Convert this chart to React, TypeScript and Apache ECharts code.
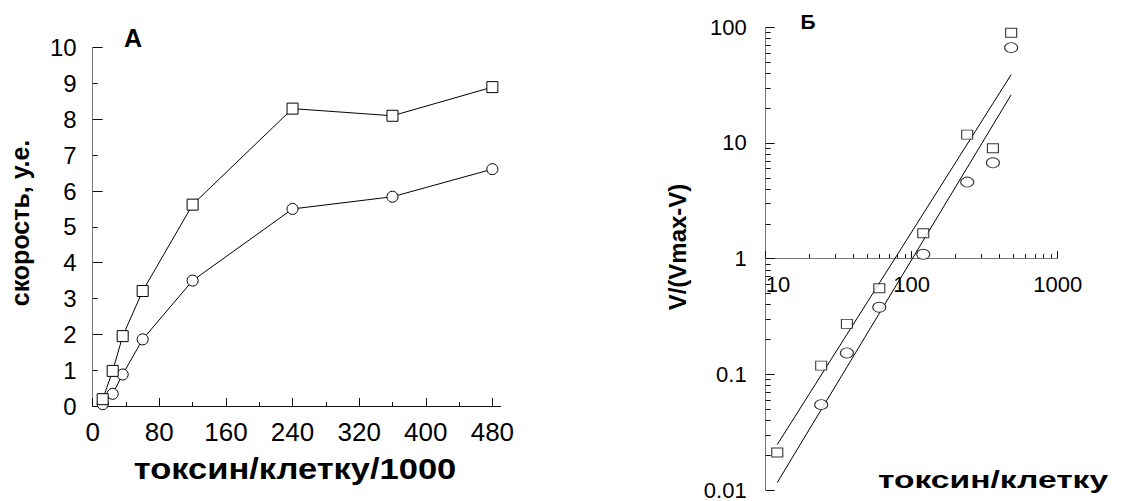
import React, { useEffect, useRef } from "react";
import * as echarts from "echarts";

// Panel А: rate vs toxin per cell (thousands)
const doses = [12, 24, 36, 60, 120, 240, 360, 480];
const rateSquares = [0.19, 0.98, 1.95, 3.21, 5.62, 8.3, 8.1, 8.9];
const rateCircles = [0.05, 0.34, 0.88, 1.86, 3.5, 5.5, 5.84, 6.61];

// Panel Б: V/(Vmax-V) vs toxin per cell, log-log
const dosesSquaresB = [12, 24, 36, 60, 120, 240, 360, 480];
const ratioSquares = [0.0211, 0.119, 0.273, 0.554, 1.66, 11.8, 9.0, 89.8];
const dosesCirclesB = [24, 36, 60, 120, 240, 360, 480];
const ratioCircles = [0.0547, 0.153, 0.38, 1.09, 4.59, 6.74, 66.7];
const fitX = [12, 480];
const fitSquares = [0.0247, 39];
const fitCircles = [0.0116, 26.1];

// Tick values
const xTicksA = [0, 80, 160, 240, 320, 400, 480];
const xMinorTicksA = [40, 120, 200, 280, 360, 440];
const yMajorTicksA = [0, 2, 4, 6, 8, 10];
const yMinorTicksA = [1, 3, 5, 7, 9];
const xMinorTicksB = [20, 30, 40, 50, 60, 70, 80, 90, 200, 300, 400, 500, 600, 700, 800, 900];
const yMinorTicksB = [
  0.02, 0.03, 0.04, 0.05, 0.06, 0.07, 0.08, 0.09,
  0.2, 0.3, 0.4, 0.5, 0.6, 0.7, 0.8, 0.9,
  2, 3, 4, 5, 6, 7, 8, 9,
  20, 30, 40, 50, 60, 70, 80, 90,
];

const FONT = '"Liberation Sans", Arial, Helvetica, sans-serif';

export default function App() {
  const ref = useRef<HTMLDivElement>(null);
  useEffect(() => {
    if (!ref.current) return;
    const chart = echarts.init(ref.current, null, { renderer: "svg" });
    const markerStyle = { color: "#fff", borderColor: "#000", borderWidth: 1 };
    const plainLabel = (v: number) => String(v);
    const xOffsetB = -231.9;
    const option: any = {
      animation: false,
      backgroundColor: "#fff",
      textStyle: { fontFamily: FONT, color: "#000" },
      grid: [
        { left: 92.7, top: 47.7, width: 408, height: 358.3 },
        { left: 765.7, top: 27.3, width: 292, height: 464.4 },
      ],
      xAxis: [
        {
          type: "value", gridIndex: 0, min: 0, max: 490, position: "bottom",
          axisLine: { lineStyle: { color: "#111", width: 1 } },
          axisTick: { customValues: xTicksA, inside: true, length: 8, lineStyle: { color: "#111" } },
          axisLabel: { customValues: xTicksA, margin: 13, fontSize: 26, color: "#000", fontFamily: FONT },
          splitLine: { show: false },
        },
        {
          type: "value", gridIndex: 0, min: 0, max: 490, position: "bottom",
          axisLine: { show: false },
          axisTick: { customValues: xMinorTicksA, inside: true, length: 4, lineStyle: { color: "#111" } },
          axisLabel: { show: false },
          splitLine: { show: false },
        },
        {
          type: "log", gridIndex: 1, min: 10, max: 1000, logBase: 10, position: "bottom", offset: xOffsetB,
          axisLine: { lineStyle: { color: "#777", width: 1 } },
          axisTick: { inside: true, length: 7, lineStyle: { color: "#111" } },
          axisLabel: { margin: 15, fontSize: 22, color: "#000", fontFamily: FONT, formatter: plainLabel, alignMinLabel: "left" },
          splitLine: { show: false },
        },
        {
          type: "log", gridIndex: 1, min: 10, max: 1000, logBase: 10, position: "bottom", offset: xOffsetB,
          axisLine: { show: false },
          axisTick: { customValues: xMinorTicksB, inside: true, length: 4, lineStyle: { color: "#111", width: 1 } },
          axisLabel: { show: false },
          splitLine: { show: false },
        },
      ],
      yAxis: [
        {
          type: "value", gridIndex: 0, min: 0, max: 10, interval: 1, position: "left",
          axisLine: { show: true, lineStyle: { color: "#777", width: 1 } },
          axisTick: { show: true, customValues: yMajorTicksA, inside: true, length: 10, lineStyle: { color: "#111" } },
          axisLabel: { margin: 16, fontSize: 24, color: "#000", fontFamily: FONT },
          splitLine: { show: false },
        },
        {
          type: "value", gridIndex: 0, min: 0, max: 10, position: "left",
          axisLine: { show: false },
          axisTick: { show: true, customValues: yMinorTicksA, inside: true, length: 5, lineStyle: { color: "#111" } },
          axisLabel: { show: false },
          splitLine: { show: false },
        },
        {
          type: "log", gridIndex: 1, min: 0.01, max: 100, logBase: 10, position: "left",
          axisLine: { show: true, lineStyle: { color: "#777", width: 1 } },
          axisTick: { show: true, inside: true, length: 9, lineStyle: { color: "#111" } },
          axisLabel: { margin: 19, fontSize: 22, color: "#000", fontFamily: FONT, formatter: plainLabel },
          splitLine: { show: false },
        },
        {
          type: "log", gridIndex: 1, min: 0.01, max: 100, logBase: 10, position: "left",
          axisLine: { show: false },
          axisTick: { show: true, customValues: yMinorTicksB, inside: true, length: 5, lineStyle: { color: "#111", width: 1 } },
          axisLabel: { show: false },
          splitLine: { show: false },
        },
      ],
      series: [
        {
          type: "line", xAxisIndex: 0, yAxisIndex: 0,
          data: doses.map((x, i) => [x, rateCircles[i]]),
          symbol: "circle", symbolSize: 11, showAllSymbol: true,
          itemStyle: markerStyle, lineStyle: { color: "#000", width: 1 },
        },
        {
          type: "line", xAxisIndex: 0, yAxisIndex: 0,
          data: doses.map((x, i) => [x, rateSquares[i]]),
          symbol: "rect", symbolSize: 11, showAllSymbol: true,
          itemStyle: markerStyle, lineStyle: { color: "#000", width: 1 },
        },
        {
          type: "line", xAxisIndex: 2, yAxisIndex: 2,
          data: fitX.map((x, i) => [x, fitSquares[i]]),
          symbol: "none", lineStyle: { color: "#000", width: 1 },
        },
        {
          type: "line", xAxisIndex: 2, yAxisIndex: 2,
          data: fitX.map((x, i) => [x, fitCircles[i]]),
          symbol: "none", lineStyle: { color: "#000", width: 1 },
        },
        {
          type: "scatter", xAxisIndex: 2, yAxisIndex: 2, z: 3,
          data: dosesSquaresB.map((x, i) => [x, ratioSquares[i]]),
          symbol: "rect", symbolSize: [11, 9], itemStyle: markerStyle,
        },
        {
          type: "scatter", xAxisIndex: 2, yAxisIndex: 2, z: 3,
          data: dosesCirclesB.map((x, i) => [x, ratioCircles[i]]),
          symbol: "circle", symbolSize: [13, 10], itemStyle: markerStyle,
        },
      ],
      graphic: [
        {
          type: "text", x: 133, y: 37.5,
          style: { text: "А", fontSize: 25, fontWeight: "bold", fontFamily: FONT, fill: "#000", align: "center", verticalAlign: "middle" },
        },
        {
          type: "text", x: 808, y: 21,
          style: { text: "Б", fontSize: 21, fontWeight: "bold", fontFamily: FONT, fill: "#000", align: "center", verticalAlign: "middle" },
        },
        {
          type: "text", x: 20, y: 223, rotation: Math.PI / 2,
          style: { text: "скорость, у.е.", fontSize: 25, fontWeight: "bold", fontFamily: FONT, fill: "#000", align: "center", verticalAlign: "middle" },
        },
        {
          type: "text", x: 295, y: 469, scaleX: 1.15,
          style: { text: "токсин/клетку/1000", fontSize: 30, fontWeight: "bold", fontFamily: FONT, fill: "#000", align: "center", verticalAlign: "middle" },
        },
        {
          type: "text", x: 677, y: 247, rotation: Math.PI / 2,
          style: { text: "V/(Vmax-V)", fontSize: 24, fontWeight: "bold", fontFamily: FONT, fill: "#000", align: "center", verticalAlign: "middle" },
        },
        {
          type: "text", x: 993, y: 480, scaleX: 1.4,
          style: { text: "токсин/клетку", fontSize: 24, fontWeight: "bold", fontFamily: FONT, fill: "#000", align: "center", verticalAlign: "middle" },
        },
      ],
    };
    chart.setOption(option);
    return () => chart.dispose();
  }, []);
  return (
    <div
      ref={ref}
      style={{ position: "absolute", left: 0, top: 0, width: 1122, height: 501, background: "#fff" }}
    />
  );
}
